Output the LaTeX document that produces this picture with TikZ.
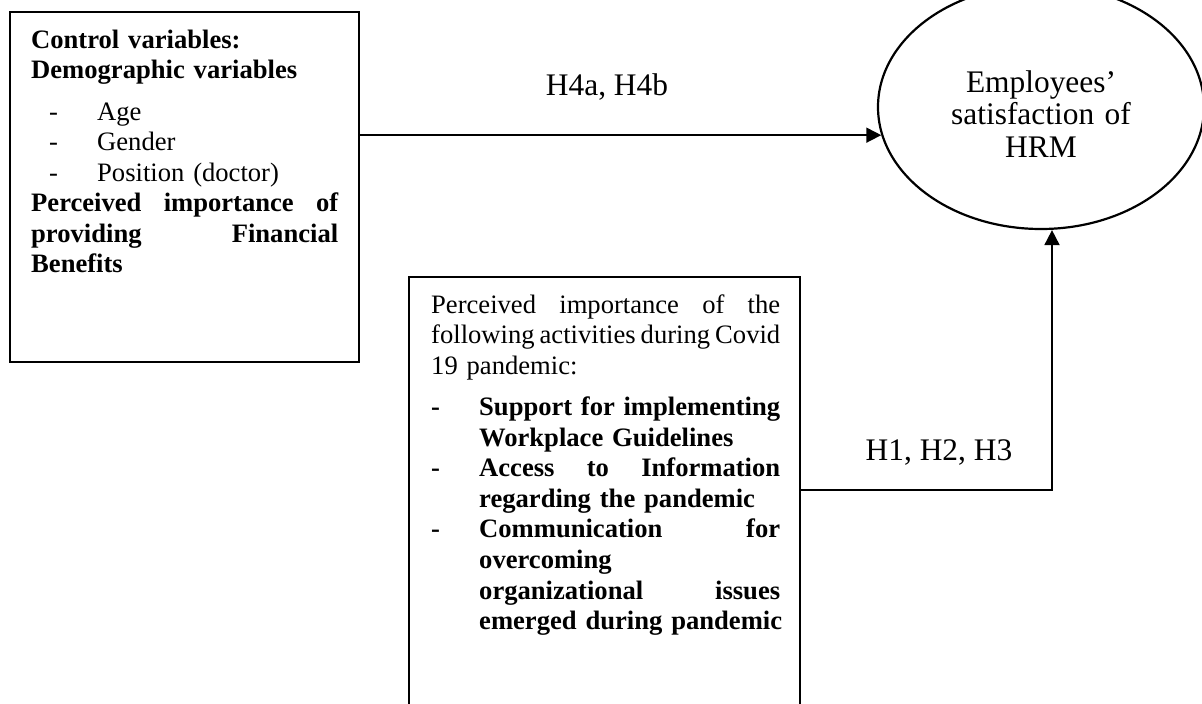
\documentclass[tikz,border=0pt]{standalone}
\usepackage{fontspec}
\setmainfont{Liberation Serif}
\usetikzlibrary{arrows.meta,shapes.geometric}
% justified inter-word gap: small natural space that stretches to fill the line
\newcommand\jsp{\hspace{2pt plus 1fill}}
% a line of given width with its words spread to both edges
\newcommand\jline[2]{\leavevmode\hbox to #1{#2}}
\begin{document}
\begin{tikzpicture}[x=1pt,y=-1pt,
  frame/.style={draw, line width=2.4pt, rectangle, inner sep=0pt, outer sep=0pt, anchor=north west},
  body/.style={font=\fontsize{26.6}{30.6}\selectfont, inner sep=0pt, anchor=base west, align=left},
  big/.style={font=\fontsize{31.4}{32.5}\selectfont, inner sep=0pt},
  link/.style={line width=1.8pt, -{Triangle[length=15pt,width=15pt]}},
  ]
\clip (0,0) rectangle (1202,704);
\fill[white] (0,0) rectangle (1202,704);

% control variables box
\node[frame, minimum width=349pt, minimum height=350pt] (ctrl) at (10,12) {};
\node[body, text width=307pt] (ctrltext) at (31,48) {\textbf{Control variables:}\\
\textbf{Demographic variables}\\[10.8pt]
\mbox{\makebox[66pt][l]{\hspace*{18pt}-}Age}\\
\mbox{\makebox[66pt][l]{\hspace*{18pt}-}Gender}\\
\mbox{\makebox[66pt][l]{\hspace*{18pt}-}Position (doctor)}\\
\jline{307pt}{\bfseries Perceived\jsp importance\jsp of}\\
\jline{307pt}{\bfseries providing\jsp Financial}\\
\textbf{Benefits}};

% pandemic activities box
\node[frame, minimum width=391pt, minimum height=440pt] (act) at (409,277) {};
\node[body, text width=349pt] (acttext) at (431,313) {\jline{349pt}{Perceived\jsp importance\jsp of\jsp the}\\
\jline{349pt}{following\jsp activities\jsp during\jsp Covid}\\
\mbox{19 pandemic:}\\[10.6pt]
\bfseries
\mbox{\makebox[48pt][l]{-}\hbox to 301pt{Support\jsp for\jsp implementing}}\\
\mbox{\hspace*{48pt}Workplace Guidelines}\\
\mbox{\makebox[48pt][l]{-}\hbox to 301pt{Access\jsp to\jsp Information}}\\
\mbox{\hspace*{48pt}regarding the pandemic}\\
\mbox{\makebox[48pt][l]{-}\hbox to 301pt{Communication\jsp for}}\\
\mbox{\hspace*{48pt}overcoming}\\
\mbox{\hspace*{48pt}\hbox to 301pt{organizational\jsp issues}}\\
\mbox{\hspace*{48pt}emerged during pandemic}};

% outcome
\node[draw, ellipse, line width=2.2pt, minimum width=326pt, minimum height=244pt, inner sep=0pt] (hrm) at (1041,107) {};
\node[big, text width=280pt, align=center, anchor=base] (hrmtext) at (1041,92) {Employees’\\ satisfaction of\\ HRM};

% hypotheses
\draw[link] (ctrl.east |- hrm.190) -- (hrm.190);
\node[big, anchor=base] (h4) at (607,95) {H4a, H4b};

\coordinate (bend) at (1052,490);
\draw[link] (act.east |- bend) -- (bend) -- (bend |- hrm.south);
\node[big, anchor=base] (h123) at (939,460) {H1, H2, H3};
\end{tikzpicture}
\end{document}
